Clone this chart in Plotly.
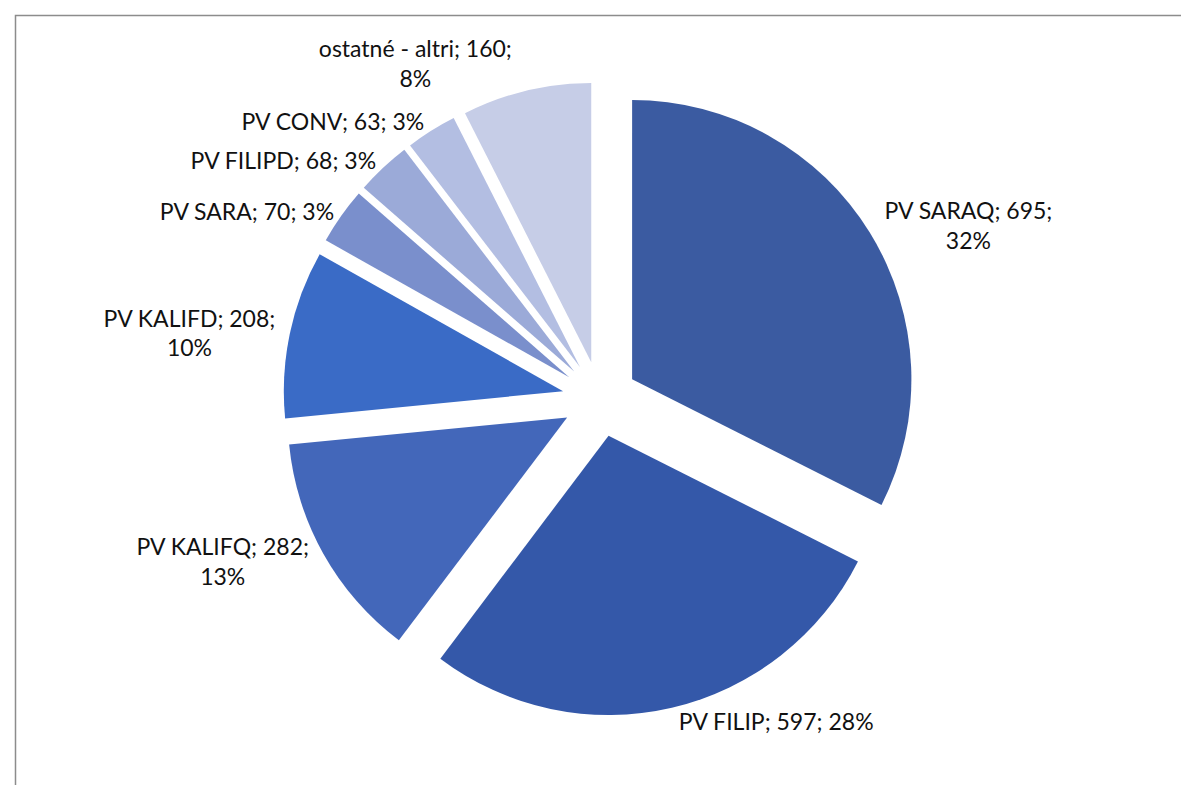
import plotly.graph_objects as go

labels = ["PV SARAQ", "PV FILIP", "PV KALIFQ", "PV KALIFD", "PV SARA", "PV FILIPD", "PV CONV", "ostatné - altri"]
values = [695, 597, 282, 208, 70, 68, 63, 160]
# percentages as printed on the chart's data labels
percents = [32, 28, 13, 10, 3, 3, 3, 8]
colors = ["#3b5ba1", "#3458a9", "#4367ba", "#3a6bc6", "#7a8fcc", "#9baad8", "#b3bee2", "#c6cde7"]
# whether the percentage goes onto its own line
wrap = [True, False, True, True, False, False, False, True]

templates = [
    "%{label}; %{value};<br>%{customdata}%" if w else "%{label}; %{value}; %{customdata}%"
    for w in wrap
]

W, H = 1189, 785
cx, cy, R = 592, 391, 317

fig = go.Figure(
    go.Pie(
        labels=labels,
        values=values,
        customdata=percents,
        sort=False,
        direction="clockwise",
        rotation=0,
        pull=0.135,
        marker=dict(colors=colors, line=dict(width=0)),
        texttemplate=templates,
        textposition="outside",
        automargin=False,
        textfont=dict(family="Lato", size=23, color="#111111"),
        showlegend=False,
        hoverinfo="label+value+percent",
        domain=dict(x=[(cx - R) / W, (cx + R) / W], y=[1 - (cy + R) / H, 1 - (cy - R) / H]),
    )
)

fig.update_layout(
    width=W,
    height=H,
    margin=dict(l=0, r=0, t=0, b=0, pad=0, autoexpand=False),
    paper_bgcolor="white",
    plot_bgcolor="white",
    shapes=[
        dict(type="rect", xref="paper", yref="paper",
             x0=7.5 / W, x1=1.02, y0=-0.02, y1=1 - 7.5 / H,
             line=dict(color="#8c8c8c", width=1.5), fillcolor="rgba(0,0,0,0)", layer="below")
    ],
)

fig.write_html("out.html")
